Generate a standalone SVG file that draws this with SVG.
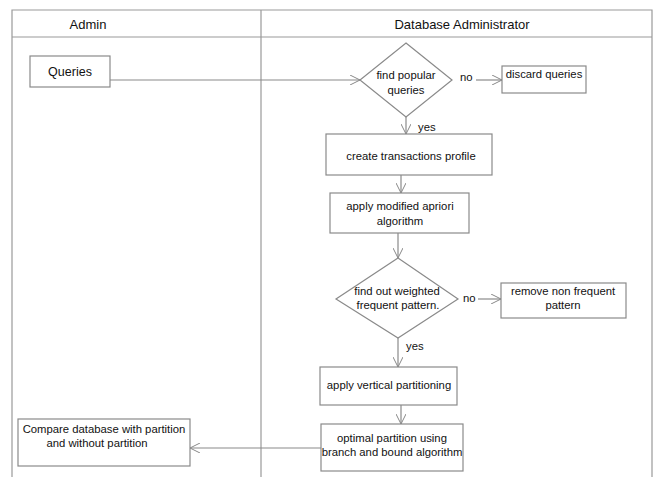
<svg xmlns="http://www.w3.org/2000/svg" width="656" height="477" viewBox="0 0 656 477">
<defs>
<marker id="arr" viewBox="0 0 10 10" refX="10" refY="5" markerWidth="10" markerHeight="10" markerUnits="userSpaceOnUse" orient="auto">
<path d="M0,0 L10,5 L0,10" fill="none" stroke="#888" stroke-width="1"/>
</marker>
<style>
.frame{fill:none;stroke:#9a9a9a;stroke-width:1.2}
.box{fill:#fff;stroke:#8a8a8a;stroke-width:1.2}
.ln{fill:none;stroke:#8a8a8a;stroke-width:1.2}
text{font-family:"Liberation Sans",Arial,sans-serif;fill:#111}
.h{font-size:13px}
.t{font-size:11.3px}
.q{font-size:12.5px}
</style>
</defs>
<rect width="656" height="477" fill="#fff"/>
<g id="lanes">
<path class="frame" d="M12,477 V10 H652 V477 M12,37 H652 M261,10 V477"/>
<text class="h" x="88" y="29" text-anchor="middle">Admin</text>
<text class="h" x="462" y="29" text-anchor="middle">Database Administrator</text>
</g>
<g id="connectors">
<path class="ln" d="M110,80 H360" marker-end="url(#arr)"/>
<path class="ln" d="M476,80 H502" marker-end="url(#arr)"/>
<path class="ln" d="M406,117 V134" marker-end="url(#arr)"/>
<path class="ln" d="M401,175 V193" marker-end="url(#arr)"/>
<path class="ln" d="M398,233 V258" marker-end="url(#arr)"/>
<path class="ln" d="M478,299 H501" marker-end="url(#arr)"/>
<path class="ln" d="M398,338 V367" marker-end="url(#arr)"/>
<path class="ln" d="M401,405 V424" marker-end="url(#arr)"/>
<path class="ln" d="M321,448 H190" marker-end="url(#arr)"/>
<text class="t" x="460" y="81">no</text>
<text class="t" x="418" y="131">yes</text>
<text class="t" x="463" y="302">no</text>
<text class="t" x="406" y="350">yes</text>
</g>
<g id="queries">
<rect class="box" x="30" y="56" width="80" height="31"/>
<text class="q" x="70" y="76" text-anchor="middle">Queries</text>
</g>
<g id="find-popular">
<polygon class="box" points="406,43 452,80 406,117 360,80"/>
<text class="t" x="406" y="79" text-anchor="middle">find popular</text>
<text class="t" x="406" y="94" text-anchor="middle">queries</text>
</g>
<g id="discard">
<rect class="box" x="502" y="66" width="84" height="27"/>
<text class="t" x="544" y="78" text-anchor="middle">discard queries</text>
</g>
<g id="create-profile">
<rect class="box" x="326" y="134" width="166" height="41"/>
<text class="t" x="411" y="160" text-anchor="middle">create transactions profile</text>
</g>
<g id="apriori">
<rect class="box" x="330" y="193" width="139" height="40"/>
<text class="t" x="400" y="210" text-anchor="middle">apply modified apriori</text>
<text class="t" x="400" y="225" text-anchor="middle">algorithm</text>
</g>
<g id="weighted">
<polygon class="box" points="398,258 458,299 398,338 336,299"/>
<text class="t" x="397" y="295" text-anchor="middle">find out weighted</text>
<text class="t" x="398" y="309" text-anchor="middle">frequent pattern.</text>
</g>
<g id="remove">
<rect class="box" x="501" y="283" width="125" height="35"/>
<text class="t" x="563" y="295" text-anchor="middle">remove non frequent</text>
<text class="t" x="563" y="309" text-anchor="middle">pattern</text>
</g>
<g id="vertical">
<rect class="box" x="320" y="367" width="137" height="38"/>
<text class="t" x="389" y="389" text-anchor="middle">apply vertical partitioning</text>
</g>
<g id="optimal">
<rect class="box" x="321" y="424" width="142" height="47"/>
<text class="t" x="392" y="442" text-anchor="middle">optimal partition using</text>
<text class="t" x="392" y="456" text-anchor="middle">branch and bound algorithm</text>
</g>
<g id="compare">
<rect class="box" x="18" y="419" width="172" height="47"/>
<text class="t" x="104" y="433" text-anchor="middle">Compare database with partition</text>
<text class="t" x="97" y="447" text-anchor="middle">and without partition</text>
</g>
</svg>
